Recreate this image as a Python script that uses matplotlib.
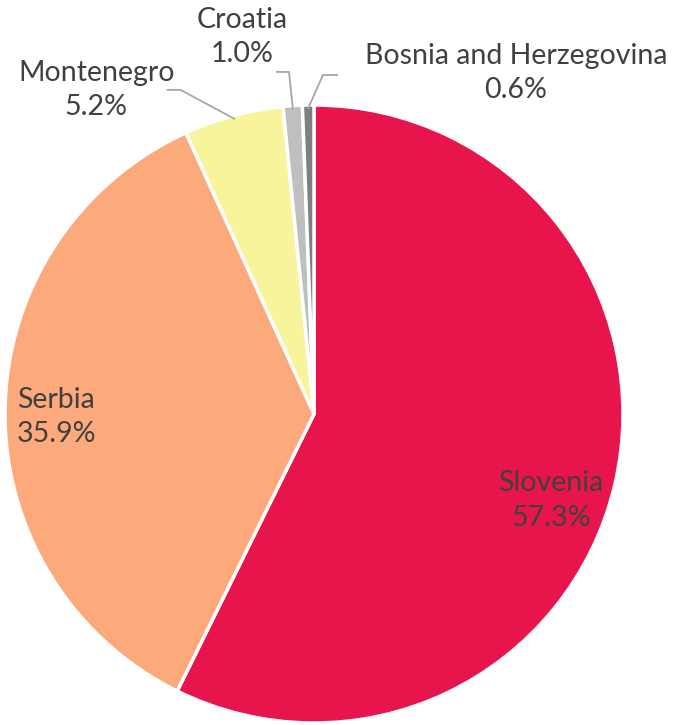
import numpy as np
import matplotlib.pyplot as plt

countries = ['Slovenia', 'Serbia', 'Montenegro', 'Croatia', 'Bosnia and Herzegovina']
shares = [57.3, 35.9, 5.2, 1.0, 0.6]
colors = ['#E8144C', '#FCAA7B', '#F8F49B', '#BFBFBF', '#7F7F7F']

# label centres (data units, pie radius = 1) and leader elbows
label_pos = [(0.766, -0.28), (-0.834, -0.01), (-0.705, 1.049), (-0.234, 1.221), (0.653, 1.104)]
elbows = [None, None, [(-0.474, 1.049), (-0.432, 1.049)],
          [(-0.12, 1.107), (-0.081, 1.107)],
          [(0.075, 1.097), (0.029, 1.097)]]

W, H = 685, 725
cx, cy, R = 314, 414, 309

fig = plt.figure(figsize=(W / 100, H / 100), dpi=100)
ax = fig.add_axes([(cx - R) / W, (H - cy - R) / H, 2 * R / W, 2 * R / H])

wedges, _ = ax.pie(shares, colors=colors, startangle=90, counterclock=False,
                   radius=1, wedgeprops=dict(edgecolor='white', linewidth=2.5))
ax.set_xlim(-1, 1)
ax.set_ylim(-1, 1)
ax.set_aspect('equal')
ax.axis('off')

txt_color = '#404040'
for i, w in enumerate(wedges):
    lx, ly = label_pos[i]
    ax.text(lx, ly, f'{countries[i]}\n{shares[i]:.1f}%', ha='center', va='center',
            fontsize=20.5, color=txt_color, family='Lato', linespacing=1.4,
            clip_on=False)
    if elbows[i] is not None:
        mid = np.deg2rad((w.theta1 + w.theta2) / 2)
        tip = (np.cos(mid) * 0.99, np.sin(mid) * 0.99)
        pts = elbows[i] + [tip]
        xs, ys = zip(*pts)
        ax.plot(xs, ys, color='#A6A6A6', lw=1.3, clip_on=False)

fig.savefig('out.png', dpi=100)
